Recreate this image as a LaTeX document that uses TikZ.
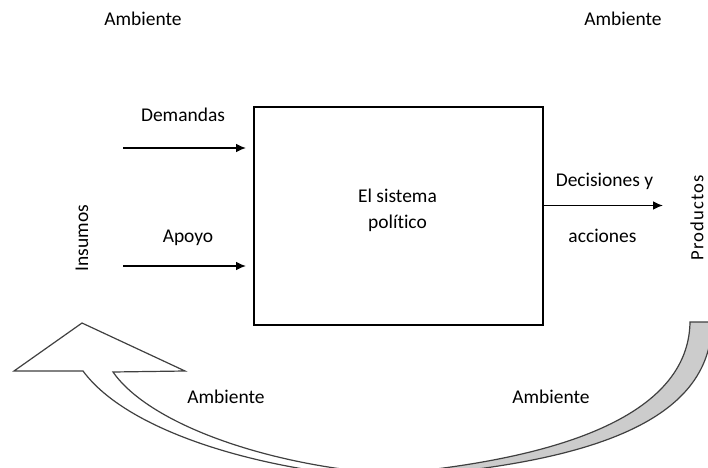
\documentclass[tikz,border=0pt]{standalone}
\usepackage{fontspec}
\setmainfont{Carlito}[Ligatures=NoCommon]
\usetikzlibrary{arrows.meta}

\begin{document}
\begin{tikzpicture}[x=0.75pt,y=-0.75pt,
  etiq/.style={inner sep=0pt,anchor=base,font=\fontsize{14.6}{17}\selectfont},
  flecha/.style={line width=1pt,-{Latex[length=7.5pt,width=6.5pt]}},
  banda/.style={draw=black!75,line width=0.9pt,line join=miter}]
\useasboundingbox (0,0) rectangle (708,468);
\clip (0,0) rectangle (708,468);

% la caja central
\node[draw,line width=1pt,minimum width=216.75pt,minimum height=163.5pt,inner sep=0pt] (sistema) at (398.5,216) {};
\node[etiq] (sist1) at (397.5,202) {El sistema};
\node[etiq] (sist2) at (397.5,228.5) {político};

% ambiente
\node[etiq] (amb1) at (143,25) {Ambiente};
\node[etiq] (amb2) at (623,25) {Ambiente};
\node[etiq] (amb3) at (226,403) {Ambiente};
\node[etiq] (amb4) at (551,403) {Ambiente};

% entradas
\node[etiq] (demandas) at (183,121) {Demandas};
\node[etiq] (apoyo) at (188,242) {Apoyo};
\node[etiq,anchor=center,rotate=90] (insumos) at (82,238) {Insumos};
\coordinate (demIn) at (123,148);
\coordinate (demFin) at (246,148);
\coordinate (apoIn) at (123,266);
\coordinate (apoFin) at (246,266);
\draw[flecha] (demIn) -- (demFin);
\draw[flecha] (apoIn) -- (apoFin);

% salida
\node[etiq] (decis) at (604.5,186) {Decisiones y};
\node[etiq] (acciones) at (602.5,242) {acciones};
\node[etiq,anchor=center,rotate=90,font=\fontsize{14}{17}\selectfont\addfontfeature{LetterSpace=6}] (productos) at (697,218) {Productos};
\coordinate (decFin) at (663,205.5);
\draw[flecha] (sistema.east |- decFin) -- (decFin);

% flecha curva de retroalimentacion
\draw[banda,fill=black!20] (690,322) -- (712,322) .. controls (711,400) and (640,458) .. (410,476)
  -- (410,472) .. controls (620,450) and (689,390) .. (690,322) -- cycle;
\draw[banda,fill=white] (113,372) -- (185,371) -- (82,323) -- (14,371) -- (83,371)
  .. controls (128,432) and (260,470) .. (380,478) -- (390,474)
  .. controls (270,466) and (150,425) .. (113,372) -- cycle;
\end{tikzpicture}
\end{document}
